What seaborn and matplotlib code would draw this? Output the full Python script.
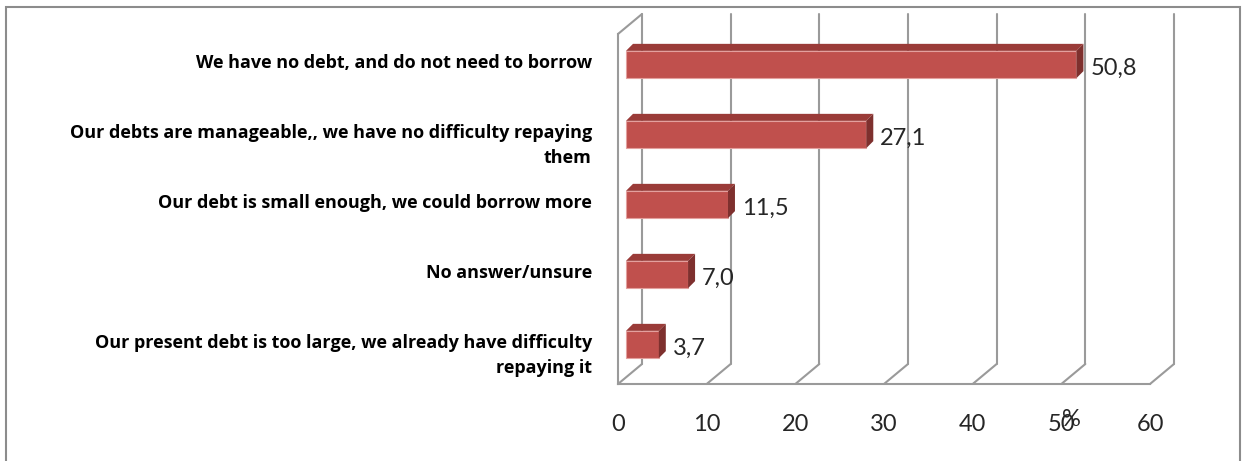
import numpy as np
import matplotlib
matplotlib.use("Agg")
import matplotlib.pyplot as plt
import seaborn as sns
from matplotlib.transforms import ScaledTranslation, IdentityTransform
from matplotlib.patches import Polygon, Rectangle

# --- Data ---
categories = [
    "We have no debt, and do not need to borrow",
    "Our debts are manageable,, we have no difficulty repaying\nthem",
    "Our debt is small enough, we could borrow more",
    "No answer/unsure",
    "Our present debt is too large, we already have difficulty\nrepaying it",
]
values = [50.8, 27.1, 11.5, 7.0, 3.7]
value_labels = ["50,8", "27,1", "11,5", "7,0", "3,7"]
x_ticks = [0, 10, 20, 30, 40, 50, 60]
x_title = "%"

# --- Style ---
sns.set_style("white")
plt.rcParams["font.family"] = ["Lato", "DejaVu Sans"]

BAR_FRONT = "#c0504d"
BAR_TOP = "#9a3b38"
BAR_SIDE = "#7e302e"
GRID = "#9a9a9a"
DPI = 100

fig = plt.figure(figsize=(12.45, 4.61), dpi=DPI)
W, H = 1245, 461
# front plane of the 3d box, in pixels
left, right, bottom, top = 618, 1150, 384, 34
ax = fig.add_axes([left / W, (H - bottom) / H, (right - left) / W, (bottom - top) / H])

sns.barplot(x=values, y=categories, orient="h", color=BAR_FRONT, width=0.39,
            saturation=1, ax=ax, zorder=3)

ax.set_xlim(0, 60)
ax.set_ylim(len(categories) - 0.5, -0.5)
ax.set_xticks(x_ticks)
ax.set_xticklabels([str(t) for t in x_ticks])
ax.set_yticks(np.arange(-0.5, len(categories), 1.0))
ax.set_yticklabels([])
ax.set_xlabel("")
ax.set_ylabel("")
ax.patch.set_visible(False)

for s in ["top", "right"]:
    ax.spines[s].set_visible(False)
for s in ["left", "bottom"]:
    ax.spines[s].set_color(GRID)
    ax.spines[s].set_linewidth(1.5)
ax.tick_params(axis="x", direction="out", length=6.5, width=1.5, color=GRID,
               labelsize=17, labelcolor="#262626", pad=15)
ax.tick_params(axis="y", direction="out", length=5.8, width=1.5, color=GRID)

# --- back wall gridlines (depth offset) ---
depth = np.array([24, 20])
back = ScaledTranslation(depth[0] / DPI, depth[1] / DPI, fig.dpi_scale_trans)
for t in x_ticks:
    ax.plot([t, t], [0, 1], transform=ax.get_xaxis_transform() + back,
            color=GRID, lw=1.5, zorder=1, clip_on=False)
    p0 = ax.get_xaxis_transform().transform((t, 0))
    ax.plot([p0[0], p0[0] + depth[0]], [p0[1], p0[1] + depth[1]],
            transform=IdentityTransform(), color=GRID, lw=1.5, zorder=1, clip_on=False)
# top of left wall
p0 = ax.transAxes.transform((0, 1))
ax.plot([p0[0], p0[0] + depth[0]], [p0[1], p0[1] + depth[1]],
        transform=IdentityTransform(), color=GRID, lw=1.5, zorder=1, clip_on=False)

# --- 3d bars: shift the fronts into the box and add top / side faces ---
shift = ScaledTranslation(8 / DPI, 4.5 / DPI, fig.dpi_scale_trans)
bar_depth = 7
for p in ax.patches:
    p.set_transform(ax.transData + shift)
    p.set_edgecolor("#e3a09e")
    p.set_linewidth(0.8)
    p.set_clip_on(False)
    x0, y0 = p.get_x(), p.get_y()
    x1, y1 = x0 + p.get_width(), y0 + p.get_height()
    (xl, ya), (xr, yb) = (ax.transData + shift).transform([(x0, y0), (x1, y1)])
    yt, ybt = max(ya, yb), min(ya, yb)
    d = bar_depth
    top_face = Polygon([(xl, yt), (xr, yt), (xr + d, yt + d), (xl + d, yt + d)],
                       closed=True, transform=IdentityTransform(),
                       facecolor=BAR_TOP, edgecolor="none", zorder=3, clip_on=False)
    side_face = Polygon([(xr, ybt), (xr + d, ybt + d), (xr + d, yt + d), (xr, yt)],
                        closed=True, transform=IdentityTransform(),
                        facecolor=BAR_SIDE, edgecolor="none", zorder=3, clip_on=False)
    ax.add_artist(top_face)
    ax.add_artist(side_face)

# --- value labels ---
lab_off = ScaledTranslation(22 / DPI, 1 / DPI, fig.dpi_scale_trans)
for i, (v, lab) in enumerate(zip(values, value_labels)):
    ax.text(v, i, lab, transform=ax.transData + lab_off, ha="left", va="center",
            fontsize=17, color="#262626", zorder=5, clip_on=False)

# --- category labels ---
cat_off = ScaledTranslation(-26 / DPI, 15 / DPI, fig.dpi_scale_trans)
for i, lab in enumerate(categories):
    ax.text(0, i, lab, transform=ax.get_yaxis_transform() + cat_off, ha="right",
            va="top", multialignment="right", fontsize=13, fontweight="bold",
            family=["Open Sans", "DejaVu Sans"], color="black", linespacing=1.5,
            clip_on=False)

# axis title "%" (sits over the 50 tick like in the original)
ax.text(0.853, -0.101, x_title, transform=ax.transAxes, ha="center", va="center",
        fontsize=17, color="#262626")

# outer frame of the chart
fig.add_artist(Rectangle((6 / W, -0.1), (1240 - 6) / W, 1.1 - 7 / H,
                         transform=fig.transFigure, fill=False,
                         edgecolor="#8c8c8c", lw=1.5))

fig.savefig("out.png", dpi=DPI)
